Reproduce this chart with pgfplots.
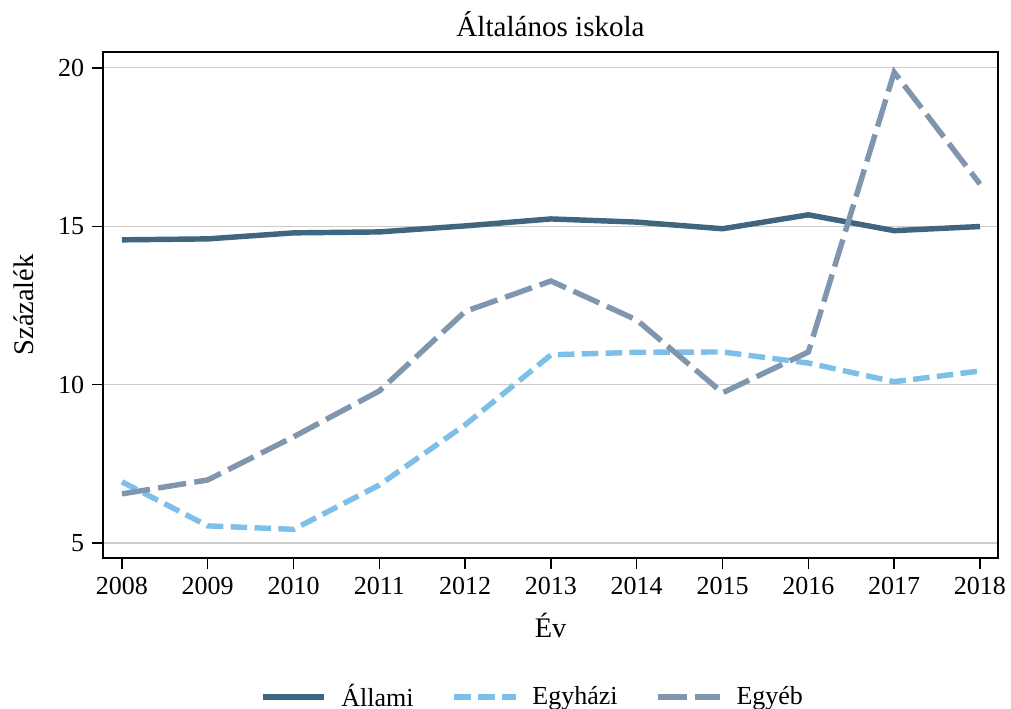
\documentclass[border=0pt]{standalone}
\usepackage{fontspec}
\setmainfont{Liberation Serif}
\usepackage{pgfplots}
\pgfplotsset{compat=1.18}

\definecolor{allami}{HTML}{3F6580}
\definecolor{egyhazi}{HTML}{7DBFE8}
\definecolor{egyeb}{HTML}{8096AE}

\begin{document}
\begin{tikzpicture}
\begin{axis}[
    scale only axis,
    width=378.6pt, height=214pt,
    xmin=2007.78, xmax=2018.21,
    ymin=4.53, ymax=20.5,
    xtick={2008,2009,...,2018},
    ytick={5,10,15,20},
    /pgf/number format/1000 sep={},
    /pgf/number format/assume math mode=true,
    tick align=outside,
    tick pos=left,
    major tick length=4.5pt,
    tick style={black, line width=0.6pt},
    axis line style={line width=0.8pt},
    ymajorgrids=true,
    grid style={gray!40, line width=0.5pt},
    ticklabel style={font=\fontsize{11}{13}\selectfont},
    title={Általános iskola},
    title style={font=\fontsize{12.3}{14}\selectfont, yshift=-3pt},
    xlabel={Év},
    ylabel={Százalék},
    label style={font=\fontsize{12}{14}\selectfont},
    xlabel style={yshift=-1pt},
    ylabel style={yshift=3.5pt},
    legend columns=3,
    legend style={
        draw=none,
        at={(0.5,0)}, anchor=center,
        yshift=-58.8pt, xshift=-7pt,
        font=\fontsize{11}{13}\selectfont,
        /tikz/every odd column/.append style={column sep=4pt},
        /tikz/every even column/.append style={column sep=14pt},
    },
    legend image code/.code={\draw[#1] (0pt,0pt) -- (26pt,0pt);},
    every axis plot/.append style={line width=2.3pt},
]

% Állami
\addplot[color=allami, solid] coordinates {
    (2008,14.57)(2009,14.60)(2010,14.79)(2011,14.82)(2012,15.01)(2013,15.23)
    (2014,15.13)(2015,14.92)(2016,15.36)(2017,14.86)(2018,14.99)
};
\addlegendentry{Állami}

% Egyházi
\addplot[color=egyhazi, dash pattern=on 7pt off 3.1pt] coordinates {
    (2008,6.93)(2009,5.54)(2010,5.43)(2011,6.83)(2012,8.73)(2013,10.94)
    (2014,11.02)(2015,11.03)(2016,10.68)(2017,10.09)(2018,10.43)
};
\addlegendentry{Egyházi}

% Egyéb
\addplot[color=egyeb, dash pattern=on 12pt off 3.5pt] coordinates {
    (2008,6.55)(2009,6.99)(2010,8.35)(2011,9.80)(2012,12.31)(2013,13.27)
    (2014,12.04)(2015,9.74)(2016,11.03)(2017,19.86)(2018,16.33)
};
\addlegendentry{Egyéb}

\end{axis}
% fixed frame so margins match the reference
\pgfresetboundingbox
\path ([shift={(-43.6pt,-63.9pt)}]current axis.south west)
    rectangle ([shift={(5.5pt,22pt)}]current axis.north east);
\end{tikzpicture}
\end{document}
